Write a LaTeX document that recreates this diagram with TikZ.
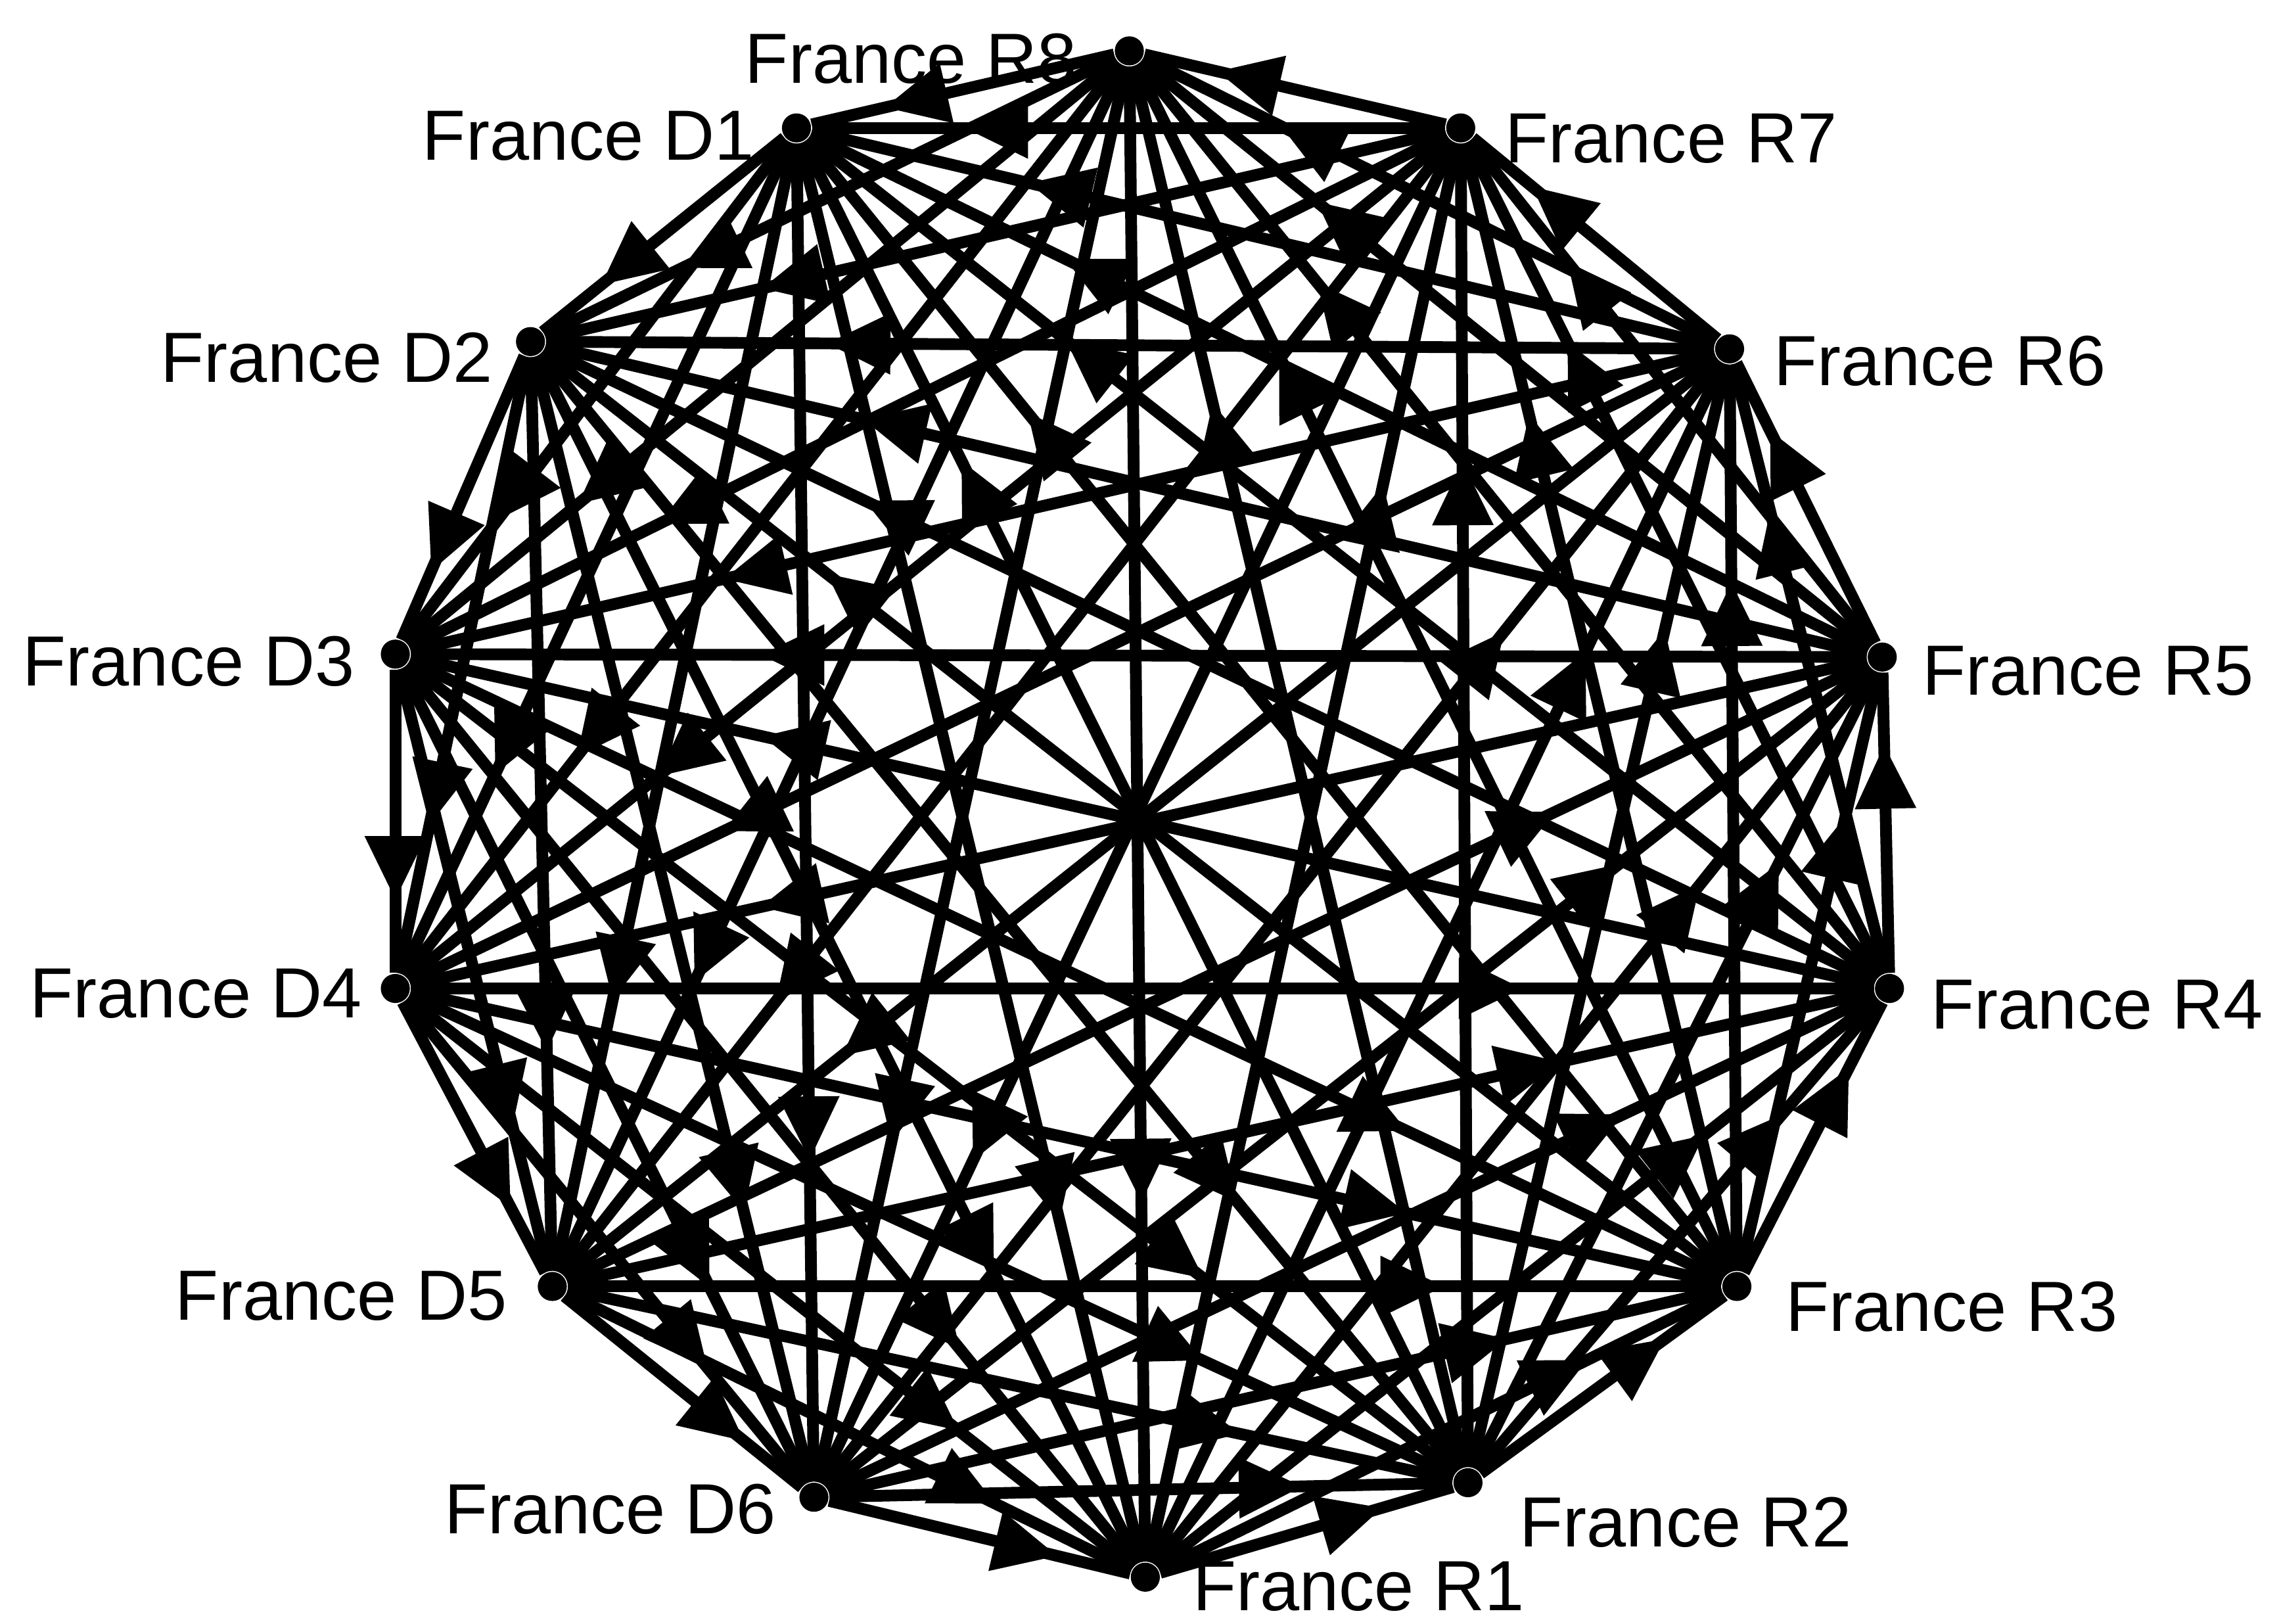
\documentclass[tikz,border=0pt]{standalone}
\usepackage{fontspec}
\setmainfont{Liberation Sans}
\usetikzlibrary{arrows.meta,decorations.markings}
\begin{document}
\begin{tikzpicture}[x=0.01cm,y=-0.01cm,
  dot/.style={circle,fill=black,inner sep=0pt,minimum size=0.2cm},
  lbl/.style={font=\fontsize{13.9}{16}\selectfont,inner sep=0pt,anchor=base west},
  edgeline/.style={line width=2.3pt,postaction={decorate},
    decoration={markings,mark=at position 0.76 with {\arrow{Triangle[length=0.44cm,width=0.4cm]}}}}]
\useasboundingbox (0,0) rectangle (1568,1117);
% nodes, clockwise from top
\node[dot] (n0) at (777,35) {};
\node[dot] (n1) at (1005,88) {};
\node[dot] (n2) at (1190,240) {};
\node[dot] (n3) at (1295,452) {};
\node[dot] (n4) at (1300,680) {};
\node[dot] (n5) at (1195,885) {};
\node[dot] (n6) at (1010,1020) {};
\node[dot] (n7) at (788,1085) {};
\node[dot] (n8) at (560,1030) {};
\node[dot] (n9) at (380,885) {};
\node[dot] (n10) at (272,680) {};
\node[dot] (n11) at (272,450) {};
\node[dot] (n12) at (365,235) {};
\node[dot] (n13) at (548,88) {};
% edges
\foreach \i in {0,...,13}{
  \foreach \k in {1,...,6}{
    \pgfmathtruncatemacro{\j}{mod(\i-\k+14,14)}
    \draw[edgeline] (n\i) -- (n\j);
  }
}
\foreach \i in {0,...,6}{
  \pgfmathtruncatemacro{\j}{\i+7}
  \draw[edgeline] (n\i) -- (n\j);
}
% labels
\node[lbl] (l0) at (512,57) {France R8};
\node[lbl] (l1) at (1035,112) {France R7};
\node[lbl] (l2) at (1220,265) {France R6};
\node[lbl] (l3) at (1322,478) {France R5};
\node[lbl] (l4) at (1328,708) {France R4};
\node[lbl] (l5) at (1228,916) {France R3};
\node[lbl] (l6) at (1045,1064) {France R2};
\node[lbl] (l7) at (820,1108) {France R1};
\node[lbl] (l8) at (305,1055) {France D6};
\node[lbl] (l9) at (120,908) {France D5};
\node[lbl] (l10) at (20,700) {France D4};
\node[lbl] (l11) at (15,472) {France D3};
\node[lbl] (l12) at (110,263) {France D2};
\node[lbl] (l13) at (290,110) {France D1};
\end{tikzpicture}
\end{document}
